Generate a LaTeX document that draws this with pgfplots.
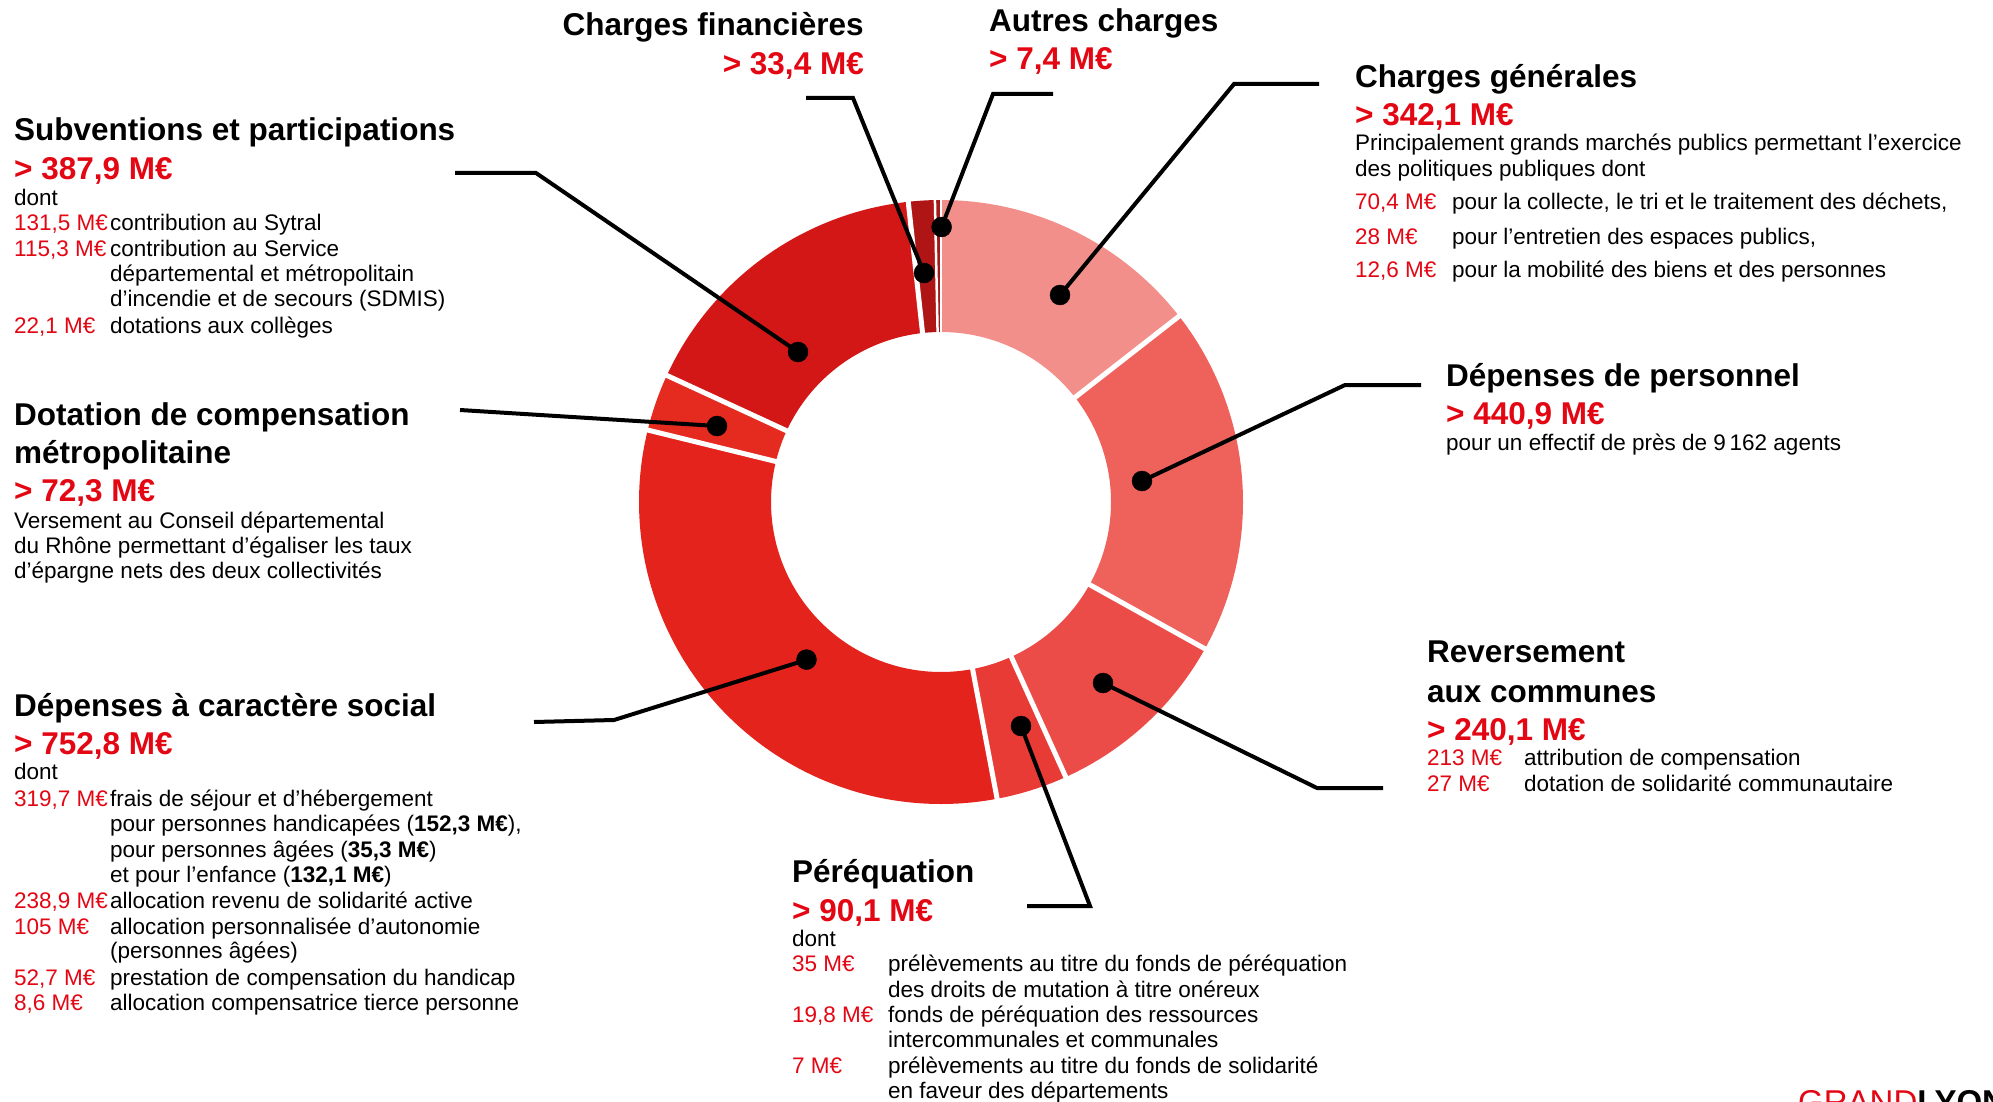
\documentclass[border=0pt]{standalone}
\usepackage{pgfplots}
\pgfplotsset{compat=1.18}
\usepackage{fontspec}
\setmainfont{Liberation Sans}

\definecolor{cCG}{HTML}{F28F8A}
\definecolor{cDP}{HTML}{EF625C}
\definecolor{cRev}{HTML}{EB4C48}
\definecolor{cPer}{HTML}{E83B35}
\definecolor{cSoc}{HTML}{E4231C}
\definecolor{cDot}{HTML}{E52A20}
\definecolor{cSub}{HTML}{D21716}
\definecolor{cCF}{HTML}{AF1515}
\definecolor{cAC}{HTML}{A31818}
\definecolor{txtred}{HTML}{E30613}

\newcommand\ttl{\fontsize{31.5}{37}\selectfont\bfseries}
\newcommand\val{\fontsize{31.5}{37}\selectfont\bfseries\color{txtred}}
\newcommand\bod{\fontsize{22.5}{27}\selectfont}
\newcommand\T[3]{\node[anchor=base west,inner sep=0pt] at (axis cs:#1,#2) {\bod #3};}
\newcommand\N[3]{\node[anchor=base west,inner sep=0pt] at (axis cs:#1,#2) {\bod\color{txtred}#3};}

% montants en M€, dans le sens horaire depuis midi
\def\vCG{342.1}\def\vDP{440.9}\def\vRev{240.1}\def\vPer{90.1}\def\vSoc{752.8}
\def\vDot{72.3}\def\vSub{387.9}\def\vCF{33.4}\def\vAC{7.4}
\pgfmathsetmacro\tot{\vCG+\vDP+\vRev+\vPer+\vSoc+\vDot+\vSub+\vCF+\vAC}
\pgfmathsetmacro\aA{90}
\pgfmathsetmacro\aB{\aA-\vCG/\tot*360}
\pgfmathsetmacro\aC{\aB-\vDP/\tot*360}
\pgfmathsetmacro\aD{\aC-\vRev/\tot*360}
\pgfmathsetmacro\aE{\aD-\vPer/\tot*360}
\pgfmathsetmacro\aF{\aE-\vSoc/\tot*360}
\pgfmathsetmacro\aG{\aF-\vDot/\tot*360}
\pgfmathsetmacro\aH{\aG-\vSub/\tot*360}
\pgfmathsetmacro\aI{\aH-\vCF/\tot*360}
\pgfmathsetmacro\aJ{\aI-\vAC/\tot*360}

\begin{document}
\begin{tikzpicture}
\begin{axis}[
  width=1993pt, height=1102pt, scale only axis,
  xmin=0, xmax=1993, ymin=0, ymax=1102, y dir=reverse,
  hide axis, clip=false,
  every axis plot/.append style={no marks, line cap=butt},
]
\coordinate (bl) at (axis cs:0,1102);
\coordinate (tr) at (axis cs:1993,0);
% anneau : centre (941,502), rayons 170 et 302
\addplot[draw=cCG, line width=132pt, domain=\aB:\aA, samples=80] ({941+236*cos(x)},{502-236*sin(x)});
\addplot[draw=cDP, line width=132pt, domain=\aC:\aB, samples=80] ({941+236*cos(x)},{502-236*sin(x)});
\addplot[draw=cRev, line width=132pt, domain=\aD:\aC, samples=60] ({941+236*cos(x)},{502-236*sin(x)});
\addplot[draw=cPer, line width=132pt, domain=\aE:\aD, samples=30] ({941+236*cos(x)},{502-236*sin(x)});
\addplot[draw=cSoc, line width=132pt, domain=\aF:\aE, samples=140] ({941+236*cos(x)},{502-236*sin(x)});
\addplot[draw=cDot, line width=132pt, domain=\aG:\aF, samples=30] ({941+236*cos(x)},{502-236*sin(x)});
\addplot[draw=cSub, line width=132pt, domain=\aH:\aG, samples=80] ({941+236*cos(x)},{502-236*sin(x)});
\addplot[draw=cCF, line width=132pt, domain=\aI:\aH, samples=10] ({941+236*cos(x)},{502-236*sin(x)});
\addplot[draw=cAC, line width=132pt, domain=\aJ:\aI, samples=5] ({941+236*cos(x)},{502-236*sin(x)});
% séparations blanches
\pgfplotsinvokeforeach{\aB,\aC,\aD,\aE,\aF,\aG,\aH}{
  \addplot[white, line width=5pt, domain=160:315, samples=2] ({941+x*cos(#1)},{502-x*sin(#1)});
}
\pgfplotsinvokeforeach{\aI,\aA}{
  \addplot[white, line width=2.5pt, domain=160:315, samples=2] ({941+x*cos(#1)},{502-x*sin(#1)});
}
% traits de rappel
\addplot[black, line width=4pt] coordinates {(798,352) (536,173) (455,173)};
\addplot[black, line width=4pt] coordinates {(717,426) (460,410)};
\addplot[black, line width=4pt] coordinates {(806,660) (614,720) (534,722)};
\addplot[black, line width=4pt] coordinates {(1021,726) (1090,906) (1027,906)};
\addplot[black, line width=4pt] coordinates {(1103,683) (1317,788) (1383,788)};
\addplot[black, line width=4pt] coordinates {(1142,481) (1345,385) (1421,385)};
\addplot[black, line width=4pt] coordinates {(1060,295) (1234,84) (1319,84)};
\addplot[black, line width=4pt] coordinates {(924,273) (853,98) (806,98)};
\addplot[black, line width=4pt] coordinates {(941.6,227) (993,94) (1053,94)};
\addplot[only marks, mark=*, mark size=10pt, black] coordinates {
  (941.6,227) (924,273) (1060,295) (798,352) (717,426)
  (1142,481) (806.5,659.6) (1103,683) (1021,726)};

% Subventions et participations
\T{14}{141}{\ttl Subventions et participations}
\T{14}{179}{\val > 387,9 M€}
\T{14}{205}{dont}
\N{14}{230}{131,5 M€}\T{110}{230}{contribution au Sytral}
\N{14}{256}{115,3 M€}\T{110}{256}{contribution au Service}
\T{110}{281}{départemental et métropolitain}
\T{110}{306}{d’incendie et de secours (SDMIS)}
\N{14}{333}{22,1 M€}\T{110}{333}{dotations aux collèges}
% Dotation de compensation
\T{14}{425}{\ttl Dotation de compensation}
\T{14}{463}{\ttl métropolitaine}
\T{14}{501}{\val > 72,3 M€}
\T{14}{528}{Versement au Conseil départemental}
\T{14}{553}{du Rhône permettant d’égaliser les taux}
\T{14}{578}{d’épargne nets des deux collectivités}
% Dépenses à caractère social
\T{14}{716}{\ttl Dépenses à caractère social}
\T{14}{754}{\val > 752,8 M€}
\T{14}{779}{dont}
\N{14}{806}{319,7 M€}\T{110}{806}{frais de séjour et d’hébergement}
\T{110}{831}{pour personnes handicapées (\textbf{152,3 M€}),}
\T{110}{857}{pour personnes âgées (\textbf{35,3 M€})}
\T{110}{882}{et pour l’enfance (\textbf{132,1 M€})}
\N{14}{908}{238,9 M€}\T{110}{908}{allocation revenu de solidarité active}
\N{14}{934}{105 M€}\T{110}{934}{allocation personnalisée d’autonomie}
\T{110}{958}{(personnes âgées)}
\N{14}{985}{52,7 M€}\T{110}{985}{prestation de compensation du handicap}
\N{14}{1010}{8,6 M€}\T{110}{1010}{allocation compensatrice tierce personne}
% Charges financières / Autres charges
\node[anchor=base east,inner sep=0pt] at (axis cs:864,36) {\ttl Charges financières};
\node[anchor=base east,inner sep=0pt] at (axis cs:864,75) {\val > 33,4 M€};
\T{989}{32}{\ttl Autres charges}
\T{989}{70}{\val > 7,4 M€}
% Charges générales
\T{1355}{88}{\ttl Charges générales}
\T{1355}{126}{\val > 342,1 M€}
\T{1355}{151}{Principalement grands marchés publics permettant l’exercice}
\T{1355}{177}{des politiques publiques dont}
\N{1355}{210}{70,4 M€}\T{1452}{210}{pour la collecte, le tri et le traitement des déchets,}
\N{1355}{244}{28 M€}\T{1452}{244}{pour l’entretien des espaces publics,}
\N{1355}{277}{12,6 M€}\T{1452}{277}{pour la mobilité des biens et des personnes}
% Dépenses de personnel
\T{1446}{386}{\ttl Dépenses de personnel}
\T{1446}{424}{\val > 440,9 M€}
\T{1446}{450}{pour un effectif de près de 9\,162 agents}
% Reversement aux communes
\T{1427}{662}{\ttl Reversement}
\T{1427}{702}{\ttl aux communes}
\T{1427}{740}{\val > 240,1 M€}
\N{1427}{765}{213 M€}\T{1524}{765}{attribution de compensation}
\N{1427}{791}{27 M€}\T{1524}{791}{dotation de solidarité communautaire}
% Péréquation
\T{792}{882}{\ttl Péréquation}
\T{792}{921}{\val > 90,1 M€}
\T{792}{946}{dont}
\N{792}{971}{35 M€}\T{888}{971}{prélèvements au titre du fonds de péréquation}
\T{888}{997}{des droits de mutation à titre onéreux}
\N{792}{1022}{19,8 M€}\T{888}{1022}{fonds de péréquation des ressources}
\T{888}{1047}{intercommunales et communales}
\N{792}{1073}{7 M€}\T{888}{1073}{prélèvements au titre du fonds de solidarité}
\T{888}{1098}{en faveur des départements}
% logo
\node[anchor=base west,inner sep=0pt] at (axis cs:1798,1113) {\fontsize{33}{33}\selectfont\color{txtred}GRAND\color{black}\bfseries LYON};
\end{axis}
\pgfresetboundingbox
\path[use as bounding box] (bl) rectangle (tr);
\end{tikzpicture}
\end{document}
